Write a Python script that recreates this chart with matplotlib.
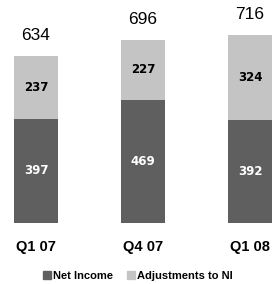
import matplotlib
matplotlib.use("Agg")
import matplotlib.pyplot as plt
from matplotlib.patches import Patch

categories = ["Q1 07", "Q4 07", "Q1 08"]
net_income = [397, 469, 392]
adjustments = [237, 227, 324]
totals = [634, 696, 716]

dark = "#5f5f5f"
light = "#c4c4c4"

fig = plt.figure(figsize=(2.73, 2.84), dpi=100)
ax = fig.add_axes([0, 61 / 284, 1, 223 / 284])

x = list(range(len(categories)))
ax.bar(x, net_income, width=0.41, color=dark)
ax.bar(x, adjustments, width=0.41, bottom=net_income, color=light)

for i in x:
    ax.text(i, net_income[i] / 2, str(net_income[i]), ha="center", va="center",
            color="white", fontsize=8.5, fontweight="bold")
    ax.text(i, net_income[i] + adjustments[i] / 2, str(adjustments[i]), ha="center",
            va="center", color="black", fontsize=8.5, fontweight="bold")
    ax.text(i, totals[i] + 50, str(totals[i]), ha="center", va="bottom",
            color="black", fontsize=12.5, family="Liberation Sans")

ax.set_xlim(-0.336, 2.215)
ax.set_ylim(0, 848)
ax.axis("off")

for i, c in enumerate(categories):
    ax.text(i, -92, c, ha="center", va="center", fontsize=10.5, fontweight="bold",
            family="Liberation Sans")

handles = [Patch(color=dark, label="Net Income"), Patch(color=light, label="Adjustments to NI")]
fig.legend(handles=handles, loc="center", bbox_to_anchor=(0.505, 8 / 284), ncol=2,
           frameon=False, prop={"size": 8, "weight": "bold", "family": "Liberation Sans"},
           handlelength=0.7, handleheight=0.7, handletextpad=0.2, columnspacing=1.3)

fig.savefig("out.png", dpi=100)
